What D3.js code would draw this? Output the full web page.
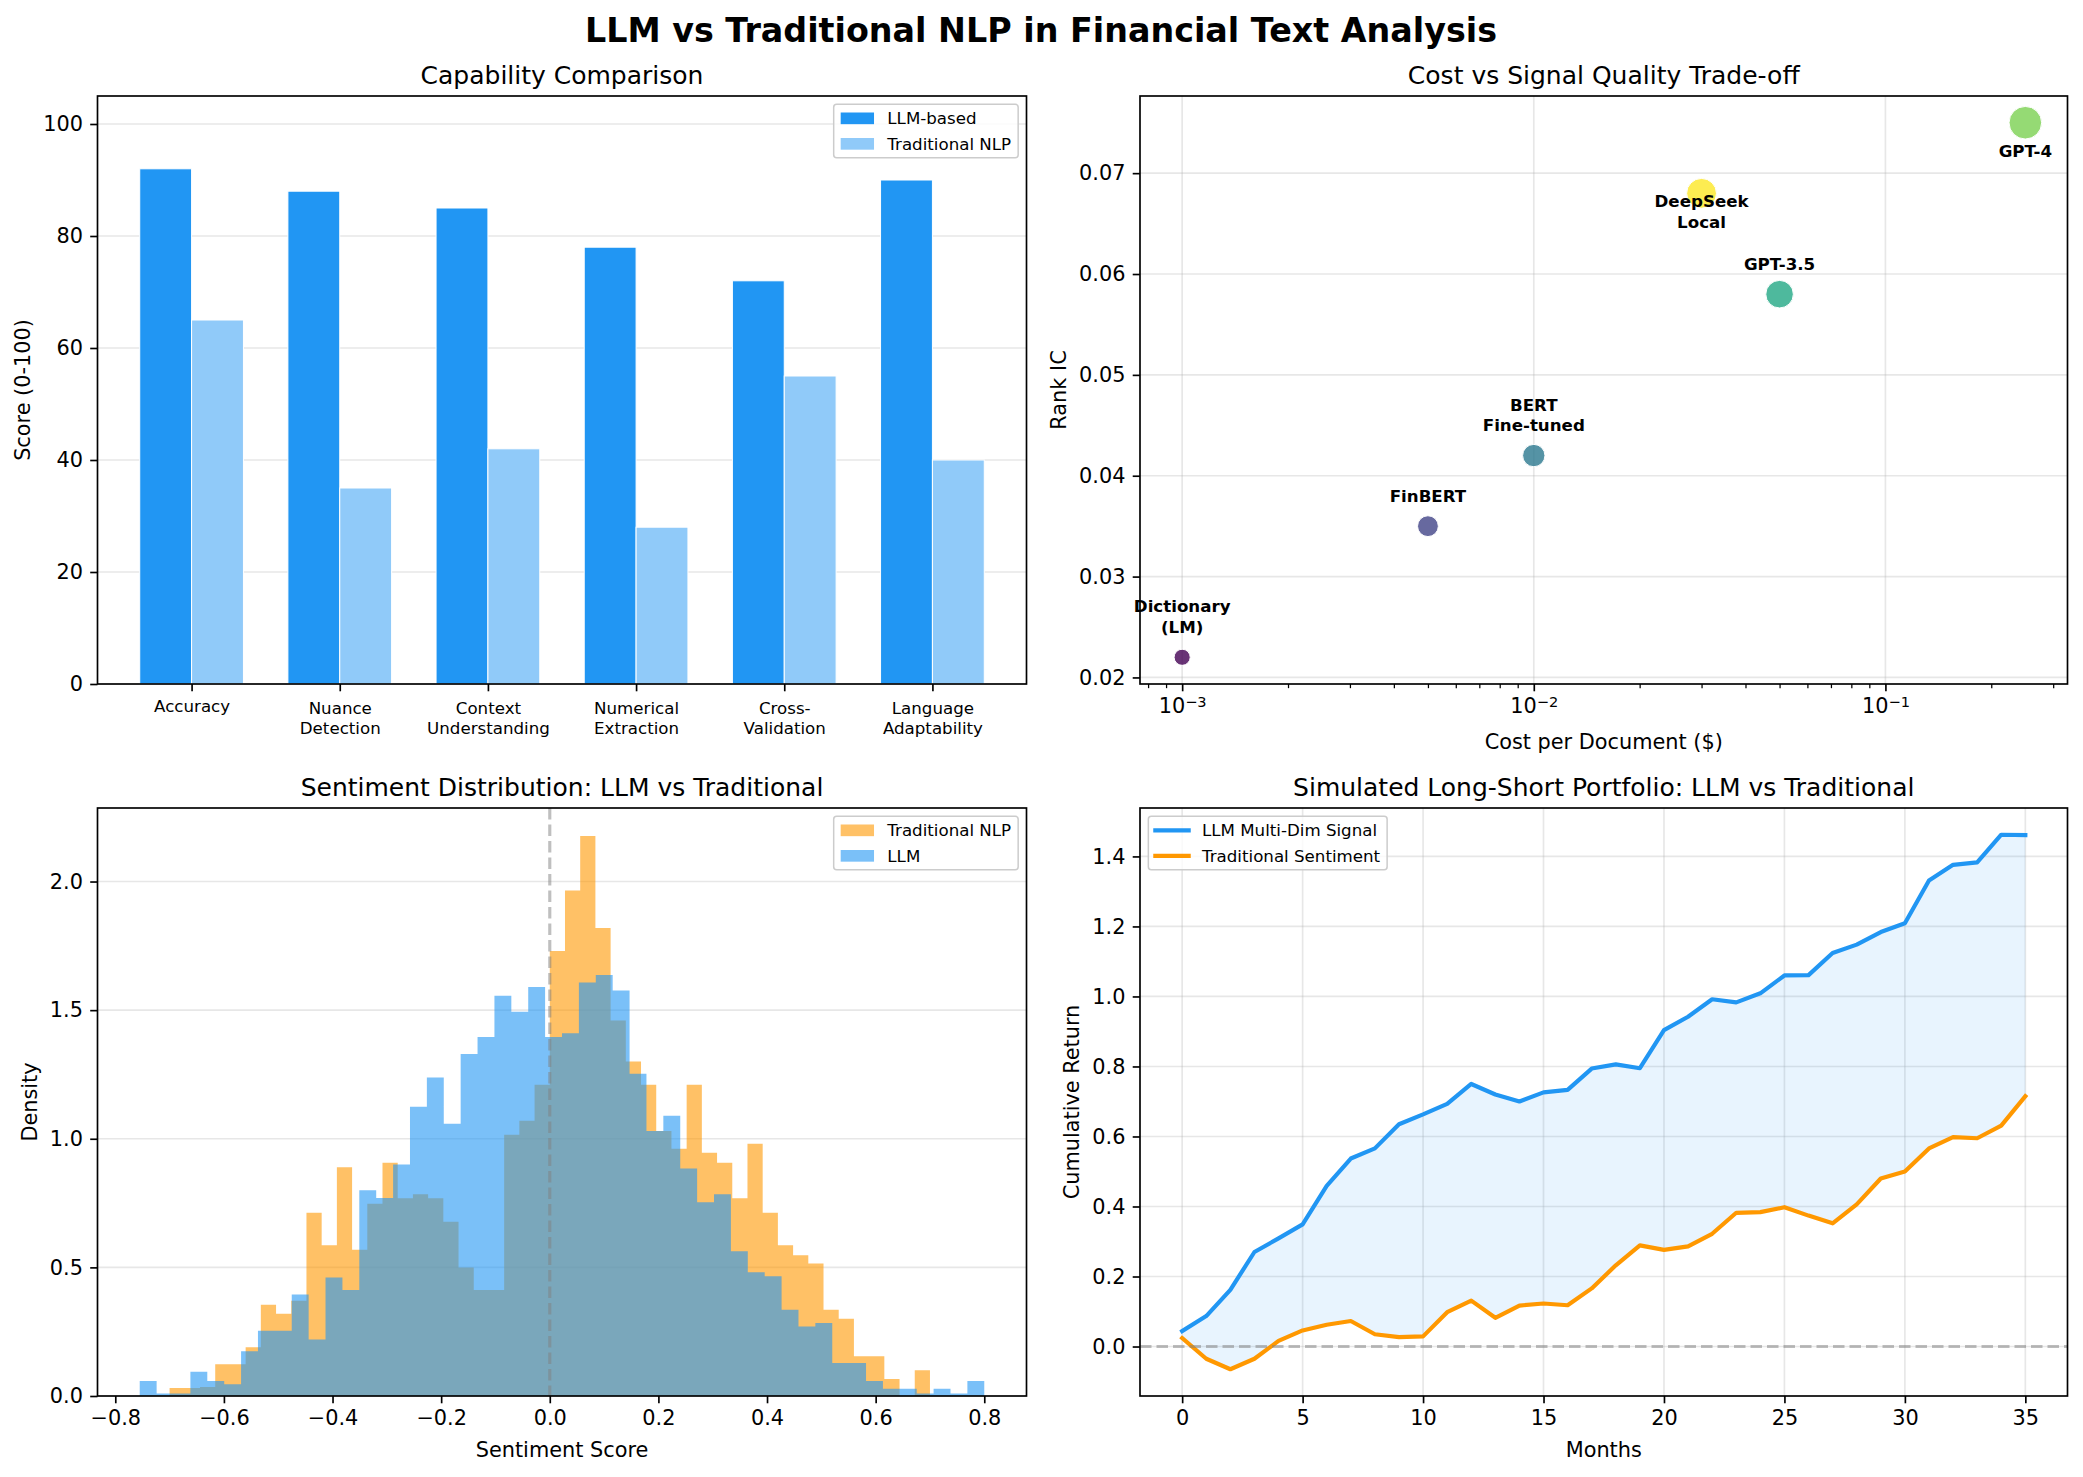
<!DOCTYPE html>
<html>
<head>
<meta charset="utf-8">
<script src="https://cdn.jsdelivr.net/npm/d3@7"></script>
<style>
  body { margin: 0; background: #fff; }
  svg { display: block; font-family: "DejaVu Sans", sans-serif; }
</style>
</head>
<body>
<div class="figure"></div>
<script>
// ---------- data ----------
const Categories = ['Accuracy', 'Nuance\nDetection', 'Context\nUnderstanding', 'Numerical\nExtraction', 'Cross-\nValidation', 'Language\nAdaptability'];
const LlmScores = [92, 88, 85, 78, 72, 90];
const TraditionalScores = [65, 35, 42, 28, 55, 40];

const Methods = ['Dictionary\n(LM)', 'FinBERT', 'BERT\nFine-tuned', 'GPT-3.5', 'GPT-4', 'DeepSeek\nLocal'];
const CostPerDoc = [0.001, 0.005, 0.01, 0.05, 0.25, 0.03];
const RankIC = [0.022, 0.035, 0.042, 0.058, 0.075, 0.068];
const MarkerArea = [60, 100, 115, 175, 245, 205]; // matplotlib "s" (pt^2)

const TraditionalBinRange = [-0.70, 0.70];
const TraditionalDensity = [
  0.031, 0.031, 0.035, 0.123, 0.123, 0.190, 0.355, 0.320, 0.370, 0.712,
  0.586, 0.889, 0.569, 0.747, 0.907, 0.769, 0.784, 0.769, 0.677, 0.500,
  0.412, 0.412, 1.016, 1.070, 1.210, 1.730, 1.965, 2.177, 1.819, 1.460,
  1.300, 1.210, 1.030, 0.961, 1.210, 0.946, 0.907, 0.769, 0.981, 0.712,
  0.586, 0.547, 0.515, 0.335, 0.300, 0.155, 0.155, 0.066, 0.000, 0.100
];
const LlmBinRange = [-0.755, 0.80];
const LlmDensity = [
  0.058, 0.010, 0.010, 0.094, 0.058, 0.046, 0.174, 0.254, 0.254, 0.395,
  0.220, 0.461, 0.412, 0.800, 0.770, 0.900, 1.124, 1.238, 1.058, 1.330,
  1.396, 1.556, 1.494, 1.590, 1.396, 1.410, 1.607, 1.637, 1.576, 1.253,
  1.030, 1.089, 0.884, 0.753, 0.784, 0.563, 0.481, 0.466, 0.335, 0.270,
  0.284, 0.128, 0.128, 0.058, 0.028, 0.028, 0.010, 0.028, 0.010, 0.058
];

const Months = d3.range(36);
const LlmCumReturn = [
  0.044, 0.087, 0.162, 0.270, 0.309, 0.349, 0.459, 0.537, 0.566, 0.635,
  0.663, 0.693, 0.750, 0.720, 0.700, 0.726, 0.733, 0.794, 0.806, 0.795,
  0.904, 0.942, 0.992, 0.983, 1.009, 1.060, 1.061, 1.124, 1.148, 1.184,
  1.209, 1.331, 1.376, 1.383, 1.462, 1.461
];
const TraditionalCumReturn = [
  0.024, -0.035, -0.065, -0.035, 0.016, 0.046, 0.062, 0.073, 0.035, 0.027,
  0.029, 0.098, 0.131, 0.082, 0.117, 0.123, 0.118, 0.166, 0.232, 0.289,
  0.276, 0.286, 0.322, 0.382, 0.384, 0.398, 0.374, 0.352, 0.406, 0.480,
  0.500, 0.566, 0.598, 0.595, 0.631, 0.715
];

// ---------- layout ----------
const Width = 2083, Height = 1477;
const PT = 150 / 72;          // points -> px
const Blue = '#2196F3', LightBlue = '#90CAF9', Orange = '#FF9800';
const Panels = {
  bar:     {left: 97.5, right: 1026.5, top: 96,  bottom: 684},
  scatter: {left: 1140, right: 2067.5, top: 96,  bottom: 684},
  hist:    {left: 97.5, right: 1026.5, top: 808, bottom: 1396},
  line:    {left: 1140, right: 2067.5, top: 808, bottom: 1396}
};
// label offsets below the point (px); others sit above
const LabelBelow = {'GPT-4': 34, 'DeepSeek\nLocal': 14};

const svg = d3.select('.figure').append('svg')
  .attr('width', Width).attr('height', Height)
  .attr('viewBox', [0, 0, Width, Height]);
svg.append('rect').attr('width', Width).attr('height', Height).attr('fill', '#fff');

// ---------- helpers ----------
function PadDomain(lo, hi, frac = 0.05) {
  const d = (hi - lo) * frac;
  return [lo - d, hi + d];
}

function MakePanel(box) {
  const w = box.right - box.left, h = box.bottom - box.top;
  const g = svg.append('g').attr('transform', `translate(${box.left},${box.top})`);
  return {g, w, h, box};
}

function StyleAxis(axisG, fontSize = 10 * PT) {
  axisG.attr('font-size', null).attr('font-family', null);
  axisG.select('.domain').remove();
  axisG.selectAll('.tick line').attr('stroke', '#000').attr('stroke-width', 0.8 * PT);
  axisG.selectAll('.tick text').attr('fill', '#000').style('font-size', fontSize + 'px');
}

function GridY(p, y, ticks) {
  p.g.append('g').selectAll('line').data(ticks).join('line')
    .attr('x1', 0).attr('x2', p.w)
    .attr('y1', d => y(d)).attr('y2', d => y(d))
    .attr('stroke', '#b0b0b0').attr('stroke-opacity', 0.3).attr('stroke-width', 0.8 * PT);
}

function GridX(p, x, ticks) {
  p.g.append('g').selectAll('line').data(ticks).join('line')
    .attr('y1', 0).attr('y2', p.h)
    .attr('x1', d => x(d)).attr('x2', d => x(d))
    .attr('stroke', '#b0b0b0').attr('stroke-opacity', 0.3).attr('stroke-width', 0.8 * PT);
}

function DrawFrame(p) {
  p.g.append('rect').attr('width', p.w).attr('height', p.h)
    .attr('fill', 'none').attr('stroke', '#000').attr('stroke-width', 0.8 * PT);
}

function AddTitle(p, text) {
  svg.append('text')
    .attr('x', (p.box.left + p.box.right) / 2)
    .attr('y', p.box.top - 6 * PT)
    .attr('text-anchor', 'middle')
    .style('font-size', 12 * PT + 'px')
    .text(text);
}

function AddXLabel(p, text, offset) {
  svg.append('text')
    .attr('x', (p.box.left + p.box.right) / 2)
    .attr('y', p.box.bottom + offset)
    .attr('text-anchor', 'middle')
    .style('font-size', 10 * PT + 'px')
    .text(text);
}

function AddYLabel(p, axisG, text) {
  const bb = axisG.node().getBBox();
  const x = p.box.left + bb.x - 4 * PT - 0.236 * 10 * PT;
  const y = (p.box.top + p.box.bottom) / 2;
  svg.append('text')
    .attr('transform', `translate(${x},${y}) rotate(-90)`)
    .attr('text-anchor', 'middle')
    .style('font-size', 10 * PT + 'px')
    .text(text);
}

// legend in the matplotlib style: items = [{label, color, opacity, kind}]
function DrawLegend(p, items, corner) {
  const fs = 8 * PT, axPad = 0.5 * fs;
  const padL = 7, handleLen = 2 * fs, gap = 0.8 * fs, first = 14, rowH = 25.5;
  const lg = p.g.append('g');
  const frame = lg.append('rect');
  const texts = items.map((it, i) => lg.append('text')
    .attr('x', padL + handleLen + gap)
    .attr('y', first + i * rowH)
    .attr('dy', '0.3645em')
    .style('font-size', fs + 'px')
    .text(it.label));
  const tw = d3.max(texts, t => t.node().getComputedTextLength());
  const bw = padL + handleLen + gap + tw + 7;
  const bh = first * 2 + rowH * (items.length - 1);
  frame.attr('width', bw).attr('height', bh).attr('rx', 3)
    .attr('fill', '#fff').attr('fill-opacity', 0.8)
    .attr('stroke', '#cccccc').attr('stroke-width', 1.5);
  items.forEach((it, i) => {
    const cy = first + i * rowH;
    if (it.kind === 'line') {
      lg.append('line').attr('x1', padL).attr('x2', padL + handleLen)
        .attr('y1', cy).attr('y2', cy)
        .attr('stroke', it.color).attr('stroke-width', 2 * PT).attr('stroke-linecap', 'square');
    } else {
      lg.append('rect').attr('x', padL).attr('y', cy - 0.35 * fs)
        .attr('width', handleLen).attr('height', 0.7 * fs)
        .attr('fill', it.color).attr('fill-opacity', it.opacity ?? 1);
    }
  });
  const x0 = corner === 'right' ? p.w - axPad - bw : axPad;
  lg.attr('transform', `translate(${x0},${axPad})`);
}

// ---------- 1. capability comparison ----------
function DrawBarGraph() {
  const p = MakePanel(Panels.bar);
  const BarWidth = 0.35;
  const x = d3.scaleLinear()
    .domain(PadDomain(-BarWidth, Categories.length - 1 + BarWidth))
    .range([0, p.w]);
  const y = d3.scaleLinear().domain([0, 105]).range([p.h, 0]);
  const yTicks = y.ticks(6);

  GridY(p, y, yTicks);

  const bars = p.g.append('g');
  bars.selectAll('rect.llm').data(LlmScores).join('rect')
    .attr('class', 'llm')
    .attr('x', (d, i) => x(i - BarWidth))
    .attr('width', x(BarWidth) - x(0))
    .attr('y', d => y(d))
    .attr('height', d => y(0) - y(d))
    .attr('fill', Blue).attr('stroke', '#fff').attr('stroke-width', 1);
  bars.selectAll('rect.trad').data(TraditionalScores).join('rect')
    .attr('class', 'trad')
    .attr('x', (d, i) => x(i))
    .attr('width', x(BarWidth) - x(0))
    .attr('y', d => y(d))
    .attr('height', d => y(0) - y(d))
    .attr('fill', LightBlue).attr('stroke', '#fff').attr('stroke-width', 1);

  const xAxisG = p.g.append('g').attr('transform', `translate(0,${p.h})`)
    .call(d3.axisBottom(x).tickValues(d3.range(Categories.length))
      .tickFormat(i => Categories[i]).tickSize(3.5 * PT).tickPadding(3.5 * PT).tickSizeOuter(0));
  StyleAxis(xAxisG, 8 * PT);
  xAxisG.selectAll('.tick text').each(function(i) {
    const lines = Categories[i].split('\n');
    const t = d3.select(this).text('')
      .attr('y', 7 * PT + (lines.length > 1 ? 4 : 2));
    lines.forEach((line, k) => {
      t.append('tspan').attr('x', 0).attr('dy', k === 0 ? null : '1.2em').text(line);
    });
  });

  const yAxisG = p.g.append('g')
    .call(d3.axisLeft(y).tickValues(yTicks).tickFormat(d3.format('d'))
      .tickSize(3.5 * PT).tickPadding(3.5 * PT).tickSizeOuter(0));
  StyleAxis(yAxisG);

  DrawLegend(p, [
    {label: 'LLM-based', color: Blue},
    {label: 'Traditional NLP', color: LightBlue}
  ], 'right');
  DrawFrame(p);
  AddTitle(p, 'Capability Comparison');
  AddYLabel(p, yAxisG, 'Score (0-100)');
}

// ---------- 2. cost vs signal quality ----------
function DrawScatterGraph() {
  const p = MakePanel(Panels.scatter);
  const logExt = d3.extent(CostPerDoc).map(Math.log10);
  const x = d3.scaleLog()
    .domain(PadDomain(logExt[0], logExt[1]).map(v => Math.pow(10, v)))
    .range([0, p.w]);
  const y = d3.scaleLinear()
    .domain(PadDomain(d3.min(RankIC), d3.max(RankIC)))
    .range([p.h, 0]);

  const isMajor = d => Math.abs(Math.log10(d) - Math.round(Math.log10(d))) < 1e-9;
  const allX = x.ticks();
  const majorX = allX.filter(isMajor);
  const minorX = allX.filter(d => !isMajor(d));
  const yTicks = y.ticks(6);

  GridX(p, x, majorX);
  GridY(p, y, yTicks);

  const size = d3.scaleSqrt().domain([0, 1]).range([0, PT / 2]);
  p.g.append('g').selectAll('circle').data(Methods).join('circle')
    .attr('cx', (d, i) => x(CostPerDoc[i]))
    .attr('cy', (d, i) => y(RankIC[i]))
    .attr('r', (d, i) => size(MarkerArea[i]))
    .attr('fill', (d, i) => d3.interpolateViridis(i / (Methods.length - 1)))
    .attr('fill-opacity', 0.8)
    .attr('stroke', '#fff').attr('stroke-width', 1);

  const labels = p.g.append('g')
    .style('font-size', 8 * PT + 'px').style('font-weight', 'bold')
    .attr('text-anchor', 'middle');
  Methods.forEach((name, i) => {
    const lines = name.split('\n');
    const cx = x(CostPerDoc[i]), cy = y(RankIC[i]);
    const lh = 20.5;
    const base = name in LabelBelow
      ? cy + LabelBelow[name]
      : cy - 24.5 - lh * (lines.length - 1);
    const t = labels.append('text').attr('x', cx).attr('y', base);
    lines.forEach((line, k) => {
      t.append('tspan').attr('x', cx).attr('dy', k === 0 ? null : lh).text(line);
    });
  });

  const xAxisG = p.g.append('g').attr('transform', `translate(0,${p.h})`)
    .call(d3.axisBottom(x).tickValues(majorX).tickFormat('')
      .tickSize(3.5 * PT).tickPadding(3.5 * PT).tickSizeOuter(0));
  StyleAxis(xAxisG);
  xAxisG.selectAll('.tick text').each(function(d) {
    const t = d3.select(this);
    t.append('tspan').text('10');
    t.append('tspan').attr('dy', '-0.42em').style('font-size', '0.7em')
      .text('\u2212' + Math.abs(Math.round(Math.log10(d))));
  });
  const minorG = p.g.append('g').attr('transform', `translate(0,${p.h})`)
    .call(d3.axisBottom(x).tickValues(minorX).tickFormat('').tickSize(2 * PT).tickSizeOuter(0));
  StyleAxis(minorG);
  minorG.selectAll('.tick line').attr('stroke-width', 0.6 * PT);

  const yAxisG = p.g.append('g')
    .call(d3.axisLeft(y).tickValues(yTicks).tickFormat(d3.format('.2f'))
      .tickSize(3.5 * PT).tickPadding(3.5 * PT).tickSizeOuter(0));
  StyleAxis(yAxisG);

  DrawFrame(p);
  AddTitle(p, 'Cost vs Signal Quality Trade-off');
  AddXLabel(p, 'Cost per Document ($)', 65);
  AddYLabel(p, yAxisG, 'Rank IC');
}

// ---------- 3. sentiment distribution ----------
function DrawHistogram() {
  const p = MakePanel(Panels.hist);
  const lo = Math.min(TraditionalBinRange[0], LlmBinRange[0]);
  const hi = Math.max(TraditionalBinRange[1], LlmBinRange[1]);
  const x = d3.scaleLinear().domain(PadDomain(lo, hi)).range([0, p.w]);
  const yMax = d3.max([...TraditionalDensity, ...LlmDensity]) * 1.05;
  const y = d3.scaleLinear().domain([0, yMax]).range([p.h, 0]);
  const yTicks = y.ticks(5);

  GridY(p, y, yTicks);

  const toSteps = (range, dens) => {
    const step = (range[1] - range[0]) / dens.length;
    const pts = dens.map((v, i) => ({x: range[0] + i * step, v}));
    pts.push({x: range[1], v: dens[dens.length - 1]});
    return pts;
  };
  const area = d3.area()
    .x(d => x(d.x)).y0(y(0)).y1(d => y(d.v))
    .curve(d3.curveStepAfter);

  p.g.append('path').datum(toSteps(TraditionalBinRange, TraditionalDensity))
    .attr('d', area).attr('fill', Orange).attr('fill-opacity', 0.6);
  p.g.append('path').datum(toSteps(LlmBinRange, LlmDensity))
    .attr('d', area).attr('fill', Blue).attr('fill-opacity', 0.6);

  p.g.append('line')
    .attr('x1', x(0)).attr('x2', x(0)).attr('y1', 0).attr('y2', p.h)
    .attr('stroke', 'gray').attr('stroke-opacity', 0.5)
    .attr('stroke-width', 1.5 * PT).attr('stroke-dasharray', '11.5,5');

  const xAxisG = p.g.append('g').attr('transform', `translate(0,${p.h})`)
    .call(d3.axisBottom(x).ticks(10).tickFormat(d3.format('.1f'))
      .tickSize(3.5 * PT).tickPadding(3.5 * PT).tickSizeOuter(0));
  StyleAxis(xAxisG);
  const yAxisG = p.g.append('g')
    .call(d3.axisLeft(y).tickValues(yTicks).tickFormat(d3.format('.1f'))
      .tickSize(3.5 * PT).tickPadding(3.5 * PT).tickSizeOuter(0));
  StyleAxis(yAxisG);

  DrawLegend(p, [
    {label: 'Traditional NLP', color: Orange, opacity: 0.6},
    {label: 'LLM', color: Blue, opacity: 0.6}
  ], 'right');
  DrawFrame(p);
  AddTitle(p, 'Sentiment Distribution: LLM vs Traditional');
  AddXLabel(p, 'Sentiment Score', 61);
  AddYLabel(p, yAxisG, 'Density');
}

// ---------- 4. long-short portfolio ----------
function DrawLineGraph() {
  const p = MakePanel(Panels.line);
  const x = d3.scaleLinear().domain(PadDomain(0, Months.length - 1)).range([0, p.w]);
  const all = [...LlmCumReturn, ...TraditionalCumReturn];
  const y = d3.scaleLinear().domain(PadDomain(d3.min(all), d3.max(all))).range([p.h, 0]);
  const xTicks = x.ticks(10), yTicks = y.ticks(10);

  GridX(p, x, xTicks);
  GridY(p, y, yTicks);

  p.g.append('path').datum(Months)
    .attr('d', d3.area().x(i => x(i)).y0(i => y(TraditionalCumReturn[i])).y1(i => y(LlmCumReturn[i])))
    .attr('fill', Blue).attr('fill-opacity', 0.1);

  const line = vals => d3.line().x(i => x(i)).y(i => y(vals[i]));
  p.g.append('path').datum(Months).attr('d', line(LlmCumReturn))
    .attr('fill', 'none').attr('stroke', Blue).attr('stroke-width', 2 * PT)
    .attr('stroke-linejoin', 'round').attr('stroke-linecap', 'square');
  p.g.append('path').datum(Months).attr('d', line(TraditionalCumReturn))
    .attr('fill', 'none').attr('stroke', Orange).attr('stroke-width', 2 * PT)
    .attr('stroke-linejoin', 'round').attr('stroke-linecap', 'square');

  p.g.append('line')
    .attr('x1', 0).attr('x2', p.w).attr('y1', y(0)).attr('y2', y(0))
    .attr('stroke', 'gray').attr('stroke-opacity', 0.5)
    .attr('stroke-width', 1.5 * PT).attr('stroke-dasharray', '11.5,5');

  const xAxisG = p.g.append('g').attr('transform', `translate(0,${p.h})`)
    .call(d3.axisBottom(x).tickValues(xTicks).tickFormat(d3.format('d'))
      .tickSize(3.5 * PT).tickPadding(3.5 * PT).tickSizeOuter(0));
  StyleAxis(xAxisG);
  const yAxisG = p.g.append('g')
    .call(d3.axisLeft(y).tickValues(yTicks).tickFormat(d3.format('.1f'))
      .tickSize(3.5 * PT).tickPadding(3.5 * PT).tickSizeOuter(0));
  StyleAxis(yAxisG);

  DrawLegend(p, [
    {label: 'LLM Multi-Dim Signal', color: Blue, kind: 'line'},
    {label: 'Traditional Sentiment', color: Orange, kind: 'line'}
  ], 'left');
  DrawFrame(p);
  AddTitle(p, 'Simulated Long-Short Portfolio: LLM vs Traditional');
  AddXLabel(p, 'Months', 61);
  AddYLabel(p, yAxisG, 'Cumulative Return');
}

DrawBarGraph();
DrawScatterGraph();
DrawHistogram();
DrawLineGraph();

svg.append('text')
  .attr('x', 1041).attr('y', 41.5)
  .attr('text-anchor', 'middle')
  .style('font-size', 16 * PT + 'px').style('font-weight', 'bold')
  .text('LLM vs Traditional NLP in Financial Text Analysis');
</script>
</body>
</html>
